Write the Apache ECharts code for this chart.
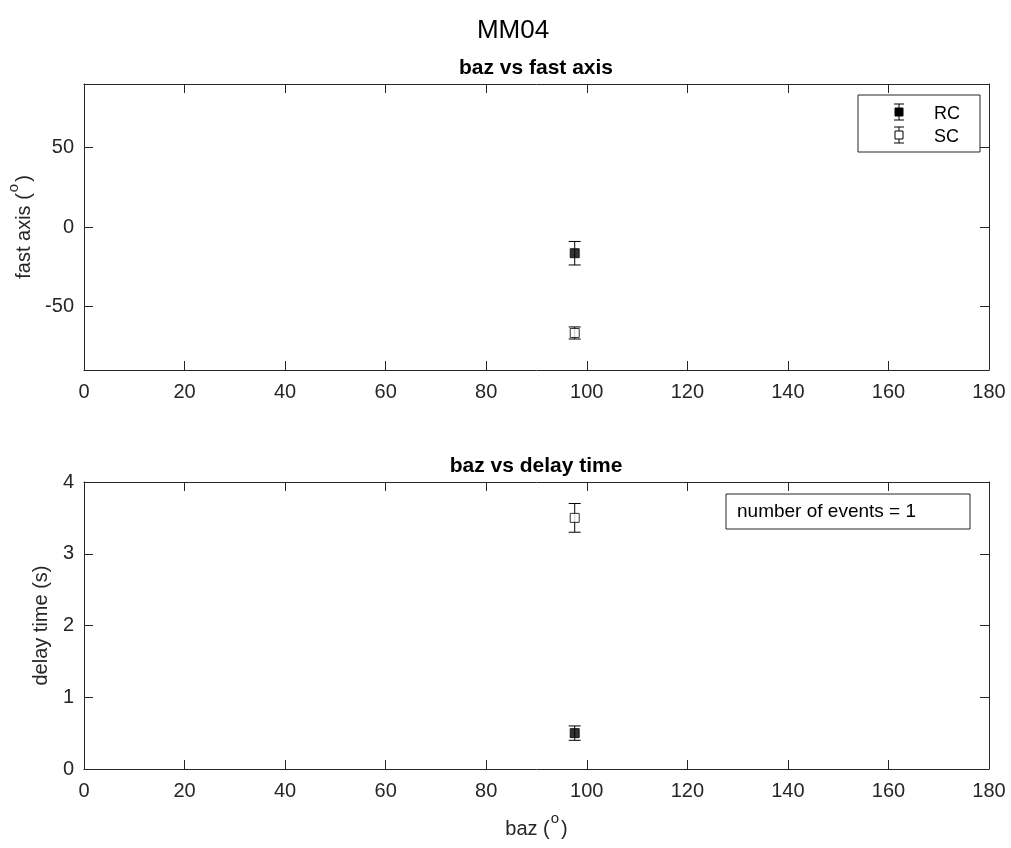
<!DOCTYPE html>
<html>
<head>
<meta charset="utf-8">
<script src="https://cdn.jsdelivr.net/npm/echarts@6/dist/echarts.min.js"></script>
<style>
  html, body { margin: 0; padding: 0; background: #fff; }
  #chart { width: 1011px; height: 848px; }
</style>
</head>
<body>
<div id="chart"></div>
<script>
// Station MM04: back-azimuth against splitting parameters
const bazValues = [97.6];
const rcFastAxis = [-16.5];
const rcFastErr = [7.4];
const scFastAxis = [-66.7];
const scFastErr = [3.8];
const rcDelay = [0.5];
const rcDelayErr = [0.1];
const scDelay = [3.5];
const scDelayErr = [0.2];
const bazTicks = [0, 20, 40, 60, 80, 100, 120, 140, 160, 180];
const fastAxisTicks = [-50, 0, 50];
const delayTicks = [0, 1, 2, 3, 4];
const eventCount = 1;

const INK = '#262626';
const FONT = '"Liberation Sans", Arial, Helvetica, sans-serif';

function rows(xs, ys, es) {
  return xs.map((x, i) => [x, ys[i], es[i]]);
}

// vertical error bar with caps
function errorBar(params, api) {
  const x = api.value(0), y = api.value(1), e = api.value(2);
  const hi = api.coord([x, y + e]);
  const lo = api.coord([x, y - e]);
  const cap = 6;
  const style = { stroke: '#000', lineWidth: 1 };
  return {
    type: 'group',
    children: [
      { type: 'line', shape: { x1: hi[0], y1: hi[1], x2: lo[0], y2: lo[1] }, style },
      { type: 'line', shape: { x1: hi[0] - cap, y1: hi[1], x2: hi[0] + cap, y2: hi[1] }, style },
      { type: 'line', shape: { x1: lo[0] - cap, y1: lo[1], x2: lo[0] + cap, y2: lo[1] }, style }
    ]
  };
}

// degree-style superscript "o" inside axis names
const supRich = {
  base: { fontSize: 20, color: INK, fontFamily: FONT, lineHeight: 28, verticalAlign: 'bottom' },
  sup: { fontSize: 15, color: INK, fontFamily: FONT, lineHeight: 16, verticalAlign: 'top', padding: [0, 2, 0, 1] }
};

function xAxes(gridIndex) {
  const common = {
    gridIndex, type: 'value', min: bazTicks[0], max: bazTicks[bazTicks.length - 1], interval: 20,
    axisLine: { show: true, onZero: false, lineStyle: { color: INK, width: 1 } },
    axisTick: { show: true, inside: true, length: 9, lineStyle: { color: INK } },
    splitLine: { show: false }
  };
  const bottom = Object.assign({}, common, {
    position: 'bottom',
    axisLabel: { color: INK, fontSize: 20, fontFamily: FONT, margin: 12 }
  });
  if (gridIndex === 1) {
    bottom.name = '{base|baz (}{sup|o}{base|)}';
    bottom.nameLocation = 'middle';
    bottom.nameGap = 42;
    bottom.nameTextStyle = { rich: supRich };
  }
  const top = Object.assign({}, common, { position: 'top', axisLabel: { show: false } });
  return [bottom, top];
}

function yAxes(gridIndex, min, max, ticks, name, gap) {
  const common = {
    gridIndex, type: 'value', min, max,
    axisLine: { show: true, onZero: false, lineStyle: { color: INK, width: 1 } },
    axisTick: { show: true, inside: true, length: 9, customValues: ticks, lineStyle: { color: INK } },
    splitLine: { show: false }
  };
  const left = Object.assign({}, common, {
    position: 'left',
    axisLabel: { color: INK, fontSize: 20, fontFamily: FONT, margin: 10, customValues: ticks },
    name, nameLocation: 'middle', nameGap: gap,
    nameTextStyle: { rich: supRich, color: INK, fontSize: 20, fontFamily: FONT }
  });
  const right = Object.assign({}, common, { position: 'right', axisLabel: { show: false } });
  return [left, right];
}

const chart = echarts.init(document.getElementById('chart'), null, { renderer: 'canvas' });

const legendX = 858, legendY = 95;
function legendGlyph(cy, fill) {
  const cx = 899;
  const s = { stroke: '#000', lineWidth: 1 };
  return [
    { type: 'line', shape: { x1: cx, y1: cy - 8, x2: cx, y2: cy + 8 }, style: s },
    { type: 'line', shape: { x1: cx - 5, y1: cy - 8, x2: cx + 5, y2: cy - 8 }, style: s },
    { type: 'line', shape: { x1: cx - 5, y1: cy + 8, x2: cx + 5, y2: cy + 8 }, style: s },
    { type: 'rect', shape: { x: cx - 4, y: cy - 4, width: 8, height: 8 }, style: { fill, stroke: '#000', lineWidth: 1 } }
  ];
}

chart.setOption({
  animation: false,
  backgroundColor: '#fff',
  grid: [
    { left: 84, top: 84, width: 905, height: 286, outerBoundsMode: 'none', containLabel: false },
    { left: 84, top: 482, width: 905, height: 287, outerBoundsMode: 'none', containLabel: false }
  ],
  xAxis: [...xAxes(0), ...xAxes(1)],
  yAxis: [
    ...yAxes(0, -90, 90, fastAxisTicks, '{base|fast axis (}{sup|o}{base|)}', 46),
    ...yAxes(1, delayTicks[0], delayTicks[delayTicks.length - 1], delayTicks, 'delay time (s)', 32)
  ],
  series: [
    { name: 'RC err', type: 'custom', xAxisIndex: 0, yAxisIndex: 0, renderItem: errorBar,
      data: rows(bazValues, rcFastAxis, rcFastErr), encode: { x: 0, y: 1 }, z: 2 },
    { name: 'SC err', type: 'custom', xAxisIndex: 0, yAxisIndex: 0, renderItem: errorBar,
      data: rows(bazValues, scFastAxis, scFastErr), encode: { x: 0, y: 1 }, z: 2 },
    { name: 'RC', type: 'scatter', xAxisIndex: 0, yAxisIndex: 0, symbol: 'rect', symbolSize: 9,
      itemStyle: { color: '#000', borderColor: '#000', borderWidth: 1 },
      data: bazValues.map((x, i) => [x, rcFastAxis[i]]), z: 3 },
    { name: 'SC', type: 'scatter', xAxisIndex: 0, yAxisIndex: 0, symbol: 'rect', symbolSize: 9,
      itemStyle: { color: '#fff', borderColor: '#000', borderWidth: 1 },
      data: bazValues.map((x, i) => [x, scFastAxis[i]]), z: 3 },

    { name: 'RC err', type: 'custom', xAxisIndex: 2, yAxisIndex: 2, renderItem: errorBar,
      data: rows(bazValues, rcDelay, rcDelayErr), encode: { x: 0, y: 1 }, z: 2 },
    { name: 'SC err', type: 'custom', xAxisIndex: 2, yAxisIndex: 2, renderItem: errorBar,
      data: rows(bazValues, scDelay, scDelayErr), encode: { x: 0, y: 1 }, z: 2 },
    { name: 'RC', type: 'scatter', xAxisIndex: 2, yAxisIndex: 2, symbol: 'rect', symbolSize: 9,
      itemStyle: { color: '#000', borderColor: '#000', borderWidth: 1 },
      data: bazValues.map((x, i) => [x, rcDelay[i]]), z: 3 },
    { name: 'SC', type: 'scatter', xAxisIndex: 2, yAxisIndex: 2, symbol: 'rect', symbolSize: 9,
      itemStyle: { color: '#fff', borderColor: '#000', borderWidth: 1 },
      data: bazValues.map((x, i) => [x, scDelay[i]]), z: 3 }
  ],
  graphic: [
    { type: 'text', x: 513, y: 31, style: { text: 'MM04', fontSize: 26, fontFamily: FONT, fill: '#000', align: 'center', verticalAlign: 'middle' } },
    { type: 'text', x: 536, y: 68, style: { text: 'baz vs fast axis', fontSize: 21, fontWeight: 'bold', fontFamily: FONT, fill: '#000', align: 'center', verticalAlign: 'middle' } },
    { type: 'text', x: 536, y: 466, style: { text: 'baz vs delay time', fontSize: 21, fontWeight: 'bold', fontFamily: FONT, fill: '#000', align: 'center', verticalAlign: 'middle' } },
    {
      type: 'group', z: 10,
      children: [
        { type: 'rect', shape: { x: legendX, y: legendY, width: 122, height: 57 }, style: { fill: '#fff', stroke: INK, lineWidth: 1 } },
        ...legendGlyph(112, '#000'),
        ...legendGlyph(135, '#fff'),
        { type: 'text', x: 934, y: 114, style: { text: 'RC', fontSize: 18, fontFamily: FONT, fill: '#000', verticalAlign: 'middle' } },
        { type: 'text', x: 934, y: 137, style: { text: 'SC', fontSize: 18, fontFamily: FONT, fill: '#000', verticalAlign: 'middle' } }
      ]
    },
    {
      type: 'group', z: 10,
      children: [
        { type: 'rect', shape: { x: 726, y: 494, width: 244, height: 35 }, style: { fill: '#fff', stroke: INK, lineWidth: 1 } },
        { type: 'text', x: 737, y: 512, style: { text: 'number of events = ' + eventCount, fontSize: 19, fontFamily: FONT, fill: '#000', verticalAlign: 'middle' } }
      ]
    }
  ]
});
</script>
</body>
</html>
